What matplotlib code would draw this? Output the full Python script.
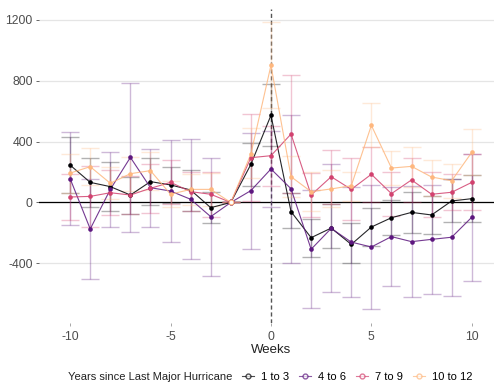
import numpy as np
import matplotlib
matplotlib.use("Agg")
import matplotlib.pyplot as plt
from matplotlib.lines import Line2D

plt.rcParams['font.family'] = ['Liberation Sans', 'DejaVu Sans']
plt.rcParams['axes.unicode_minus'] = False

weeks = list(range(-10, 11))
groups = ['1 to 3', '4 to 6', '7 to 9', '10 to 12']

est_1_3 = [245, 132, 104, 49, 137, 115, 82, -34, 0, 250, 572, -60, -231, -168, -275, -161, -100, -65, -82, 10, 25]
lo_1_3 = [65, -30, -56, -73, -18, -4, -56, -137, 0, 105, 372, -170, -355, -300, -395, -286, -215, -200, -205, -130, -130]
hi_1_3 = [427, 290, 263, 170, 290, 235, 211, 69, 0, 390, 775, 62, -110, -10, -135, -36, 14, 67, 45, 155, 180]

est_4_6 = [156, -174, 86, 296, 97, 75, 21, -93, 0, 78, 220, 90, -307, -170, -260, -292, -224, -257, -242, -228, -97]
lo_4_6 = [-150, -504, -163, -194, -163, -257, -372, -481, 0, -303, -28, -397, -694, -590, -623, -700, -550, -622, -598, -611, -515]
hi_4_6 = [462, 156, 333, 784, 351, 408, 414, 295, 0, 459, 468, 577, 80, 250, 103, 116, 102, 108, 114, 155, 321]

est_7_9 = [36, 40, 64, 49, 93, 132, 71, 54, 0, 294, 307, 449, 49, 169, 86, 185, 58, 148, 54, 67, 132]
lo_7_9 = [-117, -160, -82, -75, -67, -13, -56, -93, 0, 10, 110, 60, -95, -8, -118, 4, -86, 6, -94, -51, -51]
hi_7_9 = [189, 240, 210, 173, 253, 277, 198, 201, 0, 578, 504, 838, 193, 346, 290, 366, 202, 290, 202, 185, 318]

est_10_12 = [193, 235, 126, 189, 209, 54, 86, 86, 0, 318, 900, 169, 71, 89, 110, 506, 226, 237, 167, 143, 329]
lo_10_12 = [64, 115, 21, 78, 85, -31, -14, -20, 0, 158, 617, 38, -58, -30, 10, 366, 113, 100, 43, 31, 178]
hi_10_12 = [320, 355, 231, 300, 333, 139, 190, 195, 0, 486, 1183, 305, 198, 210, 202, 650, 335, 362, 279, 255, 480]

series = [(est_1_3, lo_1_3, hi_1_3), (est_4_6, lo_4_6, hi_4_6),
          (est_7_9, lo_7_9, hi_7_9), (est_10_12, lo_10_12, hi_10_12)]
colors = [plt.cm.magma(v) for v in [0.0, 0.283, 0.567, 0.85]]

fig = plt.figure(figsize=(4.94, 3.89), dpi=100)
ax = fig.add_axes([0.079, 0.17, 0.939, 0.807])

ax.axhline(0, color='black', lw=0.9, zorder=1)
ax.axvline(0, color='#555555', lw=1.0, ls=(0, (3, 2)), zorder=1)

x = np.array(weeks)
for (est, lo, hi), c in zip(series, colors):
    est = np.array(est); lo = np.array(lo); hi = np.array(hi)
    ax.errorbar(x, est, yerr=[est - lo, hi - est], fmt='none', ecolor=c,
                alpha=0.3, elinewidth=1.0, capsize=6.8, capthick=1.0, zorder=2)
for (est, lo, hi), c in zip(series, colors):
    est = np.array(est); lo = np.array(lo); hi = np.array(hi)
    ax.plot(x, est, color=c, lw=0.8, alpha=0.85, zorder=3)
    ref = (hi - lo) == 0
    ax.scatter(x[~ref], est[~ref], s=11, color=c, zorder=4, linewidths=0)
    ax.scatter(x[ref], est[ref], s=12, facecolors='white', edgecolors=c, linewidths=0.8, zorder=4)

ax.set_xlim(-11.55, 11.55)
ax.set_ylim(-790, 1270)
ax.set_xticks([-10, -5, 0, 5, 10])
ax.set_yticks([-400, 0, 400, 800, 1200])
ax.grid(axis='y', color='#E5E5E5', lw=0.9)
ax.set_axisbelow(True)
for s in ax.spines.values():
    s.set_visible(False)
ax.tick_params(colors='#4D4D4D', labelsize=8.8, length=2.5, width=0.6, pad=2)
ax.tick_params(axis='x', colors='#999999', labelcolor='#4D4D4D', pad=3)
ax.set_xlabel('Weeks', fontsize=9.5, color='#222222', labelpad=1)

handles = [Line2D([0], [0], color=c, lw=0.8, alpha=0.7, marker='o', markersize=3.5,
                  markerfacecolor='white', markeredgecolor=c) for c in colors]
fig.text(0.138, 0.03, 'Years since Last Major Hurricane', fontsize=8, color='#222222', va='center')
fig.legend(handles, groups, loc='center left', bbox_to_anchor=(0.49, 0.03), ncol=4,
           frameon=False, fontsize=8, handlelength=1.1, handletextpad=0.6,
           columnspacing=0.9, borderaxespad=0, borderpad=0)

fig.savefig('out.png', dpi=100)
